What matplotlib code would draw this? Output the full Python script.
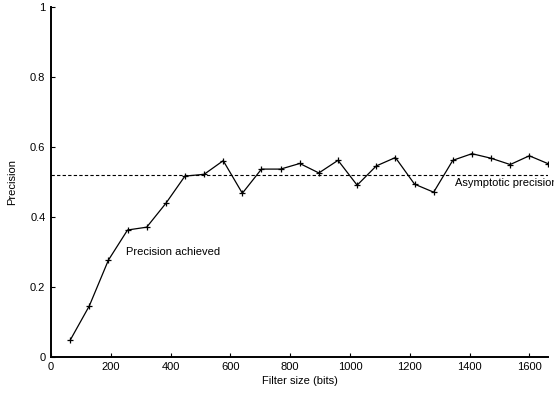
import matplotlib
matplotlib.use("Agg")
import matplotlib.pyplot as plt

plt.rcParams["font.family"] = ["Liberation Sans", "DejaVu Sans"]

# filter sizes (bits) and precision achieved
filter_bits = [64, 128, 192, 256, 320, 384, 448, 512, 576, 640, 704, 768, 832,
               896, 960, 1024, 1088, 1152, 1216, 1280, 1344, 1408, 1472, 1536,
               1600, 1664]
precision = [0.047, 0.145, 0.276, 0.362, 0.370, 0.438, 0.516, 0.521, 0.560,
             0.467, 0.536, 0.536, 0.552, 0.525, 0.561, 0.490, 0.545, 0.569,
             0.493, 0.470, 0.561, 0.580, 0.567, 0.549, 0.574, 0.551]
asymptotic = 0.52

x_ticks = [0, 200, 400, 600, 800, 1000, 1200, 1400, 1600]
y_ticks = [0, 0.2, 0.4, 0.6, 0.8, 1]
y_tick_labels = ["0", "0.2", "0.4", "0.6", "0.8", "1"]


def plot_precision():
    fig = plt.figure(figsize=(5.54, 3.94), dpi=100)
    ax = fig.add_axes([0.0921, 0.0947, 0.8979, 0.8883])

    ax.plot(filter_bits, precision, color="black", lw=0.9, marker="+",
            markersize=5, markeredgewidth=0.9)
    ax.axhline(asymptotic, color="black", lw=0.8, linestyle=(0, (3, 2)))

    ax.text(251, 0.30, "Precision achieved", fontsize=8, va="center", ha="left")
    ax.text(1352, 0.497, "Asymptotic precision", fontsize=8, va="center",
            ha="left", clip_on=False)

    ax.set_xlim(0, 1664)
    ax.set_ylim(0, 1)
    ax.set_xticks(x_ticks)
    ax.set_yticks(y_ticks)
    ax.set_yticklabels(y_tick_labels)
    ax.tick_params(direction="in", length=3, width=0.8, labelsize=8, pad=4)

    for side in ["top", "right"]:
        ax.spines[side].set_visible(False)
    for side in ["left", "bottom"]:
        ax.spines[side].set_linewidth(1.4)

    ax.set_xlabel("Filter size (bits)", fontsize=8, labelpad=3)
    ax.set_ylabel("Precision", fontsize=8, labelpad=9)

    fig.savefig("out.png", dpi=100)


if __name__ == "__main__":
    plot_precision()
